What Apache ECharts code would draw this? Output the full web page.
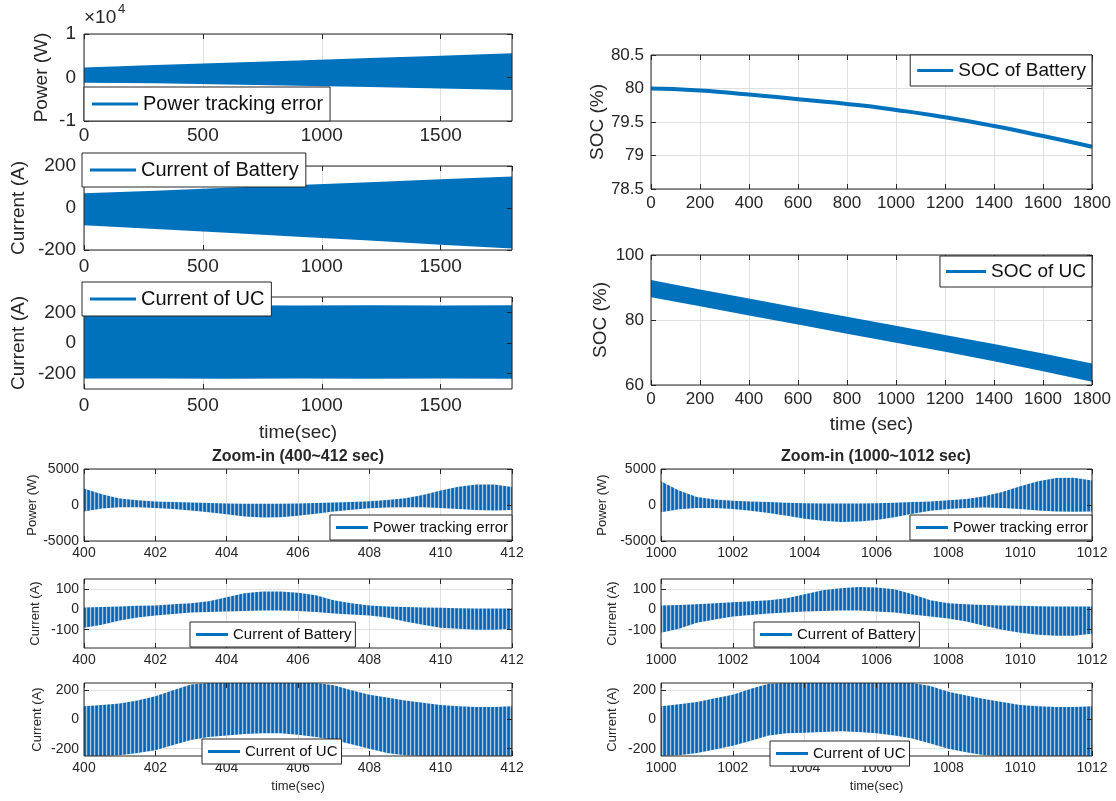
<!DOCTYPE html>
<html>
<head>
<meta charset="utf-8">
<script src="https://cdn.jsdelivr.net/npm/echarts@6/dist/echarts.min.js"></script>
<style>
  html, body { margin: 0; padding: 0; background: #ffffff; }
  #chart { width: 1116px; height: 801px; }
</style>
</head>
<body>
<div id="chart"></div>
<script>
// ---- 1800 s run: envelopes of the fast-switching signals ----
const runTime       = [0, 300, 600, 900, 1200, 1500, 1800];
const powerErrUpper = [2300, 2900, 3400, 3900, 4500, 5000, 5600];
const powerErrLower = [-1200, -1350, -1600, -1900, -2200, -2550, -2900];
const battCurUpper  = [70, 82, 97, 110, 123, 137, 150];
const battCurLower  = [-82, -100, -118, -137, -155, -175, -193];
const ucCurUpper    = [244, 245, 246, 245, 246, 245, 246];
const ucCurLower    = [-232, -232, -233, -232, -233, -232, -233];

// ---- state of charge ----
const socTime    = [0, 200, 400, 600, 800, 1000, 1200, 1400, 1600, 1800];
const socBattery = [80.00, 79.97, 79.91, 79.84, 79.77, 79.68, 79.57, 79.44, 79.29, 79.13];
const socUcUpper = [92.3, 89.4, 86.6, 83.8, 81.0, 78.2, 75.4, 72.6, 69.7, 66.6];
const socUcLower = [87.0, 84.2, 81.4, 78.6, 75.8, 73.0, 70.2, 67.3, 64.2, 61.0];

// ---- zoom-in windows (envelope of the oscillation every 0.5 s) ----
const zoomTimeA = [400, 400.5, 401, 401.5, 402, 402.5, 403, 403.5, 404, 404.5, 405, 405.5, 406,
                   406.5, 407, 407.5, 408, 408.5, 409, 409.5, 410, 410.5, 411, 411.5, 412];
const zoomTimeB = [1000, 1000.5, 1001, 1001.5, 1002, 1002.5, 1003, 1003.5, 1004, 1004.5, 1005, 1005.5, 1006,
                   1006.5, 1007, 1007.5, 1008, 1008.5, 1009, 1009.5, 1010, 1010.5, 1011, 1011.5, 1012];

const powerZoomAUpper = [2300, 1500, 900, 650, 500, 420, 350, 280, 220, 180, 170, 180, 220,
                         280, 350, 420, 520, 680, 950, 1400, 2000, 2550, 2850, 2850, 2500];
const powerZoomALower = [-900, -500, -300, -300, -400, -550, -750, -1000, -1300, -1600, -1750, -1700, -1500,
                         -1200, -900, -650, -450, -350, -300, -300, -400, -550, -700, -750, -700];
const battZoomAUpper  = [10, 12, 15, 18, 20, 25, 30, 40, 60, 80, 88, 88, 82,
                         70, 45, 30, 20, 15, 12, 10, 8, 6, 5, 5, 5];
const battZoomALower  = [-90, -75, -55, -40, -30, -22, -15, -12, -10, -8, -5, -5, -8,
                         -12, -20, -25, -30, -40, -60, -75, -90, -95, -100, -100, -95];
const ucZoomAUpper    = [90, 100, 110, 130, 160, 200, 240, 250, 250, 250, 250, 250, 250,
                         250, 235, 200, 170, 150, 130, 115, 100, 90, 85, 85, 90];
const ucZoomALower    = [-250, -250, -245, -230, -210, -175, -140, -120, -110, -100, -95, -95, -105,
                         -120, -140, -170, -200, -230, -245, -250, -250, -250, -250, -250, -250];

const powerZoomBUpper = [3300, 2000, 1100, 750, 600, 480, 400, 320, 260, 220, 200, 220, 260,
                         320, 400, 500, 650, 850, 1200, 1800, 2600, 3300, 3750, 3800, 3400];
const powerZoomBLower = [-1000, -600, -400, -400, -550, -800, -1100, -1500, -1900, -2200, -2350, -2300, -2100,
                         -1700, -1200, -800, -550, -400, -350, -400, -550, -750, -900, -950, -900];
const battZoomBUpper  = [20, 22, 25, 30, 35, 40, 45, 55, 75, 95, 105, 110, 108,
                         100, 75, 45, 30, 25, 22, 20, 18, 16, 15, 15, 15];
const battZoomBLower  = [-115, -95, -65, -50, -35, -28, -20, -15, -10, -8, -5, -5, -10,
                         -15, -25, -35, -45, -60, -80, -100, -115, -125, -130, -130, -120];
const ucZoomBUpper    = [90, 105, 120, 145, 170, 210, 245, 250, 250, 250, 250, 250, 250,
                         250, 250, 230, 190, 165, 140, 120, 100, 90, 85, 85, 90];
const ucZoomBLower    = [-250, -245, -230, -205, -180, -145, -110, -95, -90, -85, -80, -85, -95,
                         -110, -130, -165, -200, -225, -245, -250, -250, -250, -250, -250, -250];

// ---- tick labels where they differ from a plain interval ----
const ucRunTicks    = [-200, 0, 200];
const battZoomTicks = [-100, 0, 100];
const ucZoomTicks   = [-200, 0, 200];

// ---- styling ----
const FONT = '"Liberation Sans", Arial, Helvetica, sans-serif';
const BLUE = '#0072BD';
const INK = '#262626';
const GRID = '#dfdfdf';

// vertical stripe fill that reads as a densely oscillating trace
function stripeFill() {
  const c = document.createElement('canvas');
  c.width = 4; c.height = 2;
  const g = c.getContext('2d');
  ['#0564b6', '#1473c3', '#a8cbea', '#2a80cb'].forEach((col, i) => {
    g.fillStyle = col; g.fillRect(i, 0, 1, 2);
  });
  return { image: c, repeat: 'repeat' };
}
const STRIPES = stripeFill();

const option = {
  animation: false,
  backgroundColor: '#ffffff',
  textStyle: { fontFamily: FONT },
  grid: [], xAxis: [], yAxis: [], series: [], legend: [], graphic: []
};

function axisPair(list, gi, spec, isX, fs, labelMargin) {
  const base = { gridIndex: gi, type: 'value', min: spec.min, max: spec.max };
  if (!spec.ticks) base.interval = spec.interval;
  const tick = { show: true, inside: true, length: 5, lineStyle: { color: INK, width: 1 } };
  if (spec.ticks) tick.customValues = spec.ticks;
  const label = {
    show: true, fontSize: fs, color: INK, fontFamily: FONT, margin: labelMargin,
    showMaxLabel: spec.showMax !== false, showMinLabel: true,
    formatter: spec.formatter || (v => String(v))
  };
  if (spec.ticks) label.customValues = spec.ticks;
  const main = Object.assign({}, base, {
    position: isX ? 'bottom' : 'left', z: 0,
    axisLine: { show: false, onZero: false }, axisTick: tick, axisLabel: label,
    splitLine: { show: true, lineStyle: { color: GRID, width: 1 } }
  });
  if (spec.name) {
    Object.assign(main, {
      name: spec.name, nameLocation: 'middle', nameGap: spec.nameGap,
      nameRotate: isX ? 0 : 90,
      nameTextStyle: { fontSize: spec.nameSize, color: INK, fontFamily: FONT }
    });
  }
  const mirror = Object.assign({}, base, {
    position: isX ? 'top' : 'right', z: 6,
    axisLine: { show: false, onZero: false }, axisTick: Object.assign({}, tick),
    axisLabel: { show: false }, splitLine: { show: false }
  });
  const idx = list.length;
  list.push(main, mirror);
  return idx;
}

function addPanel(p) {
  const gi = option.grid.length;
  const [x0, y0, x1, y1] = p.box;
  option.grid.push({
    left: x0, top: y0, width: x1 - x0, height: y1 - y0,
    show: true, backgroundColor: 'rgba(0,0,0,0)', borderColor: INK, borderWidth: 1, z: 5
  });
  const xi = axisPair(option.xAxis, gi, p.x, true, p.fs, p.xMargin);
  const yi = axisPair(option.yAxis, gi, p.y, false, p.fs, p.yMargin);

  if (p.line) {
    option.series.push({
      type: 'line', name: p.label, xAxisIndex: xi, yAxisIndex: yi,
      data: p.t.map((t, i) => [t, p.line[i]]),
      smooth: 0.6, symbol: 'none', color: BLUE,
      lineStyle: { color: BLUE, width: p.lineWidth || 3.5 }, z: 2
    });
  } else {
    // filled band between the lower and upper envelope
    const rows = p.t.map((t, i) => [t, p.upper[i], p.lower[i]]);
    const fill = p.fill || BLUE;
    option.series.push({
      type: 'custom', name: p.label, coordinateSystem: 'cartesian2d',
      xAxisIndex: xi, yAxisIndex: yi, data: rows, encode: { x: 0, y: [1, 2] },
      clip: true, silent: true, color: BLUE, z: 2,
      renderItem: (params, api) => {
        if (params.dataIndex !== 0) return null;
        const top = rows.map(r => api.coord([r[0], r[1]]));
        const bottom = rows.slice().reverse().map(r => api.coord([r[0], r[2]]));
        return { type: 'polygon', shape: { points: top.concat(bottom) }, style: { fill: fill } };
      }
    });
  }

  const lg = p.legend;
  const legend = {
    top: lg.top, orient: 'horizontal', icon: 'rect',
    data: [p.label], selectedMode: false,
    itemWidth: lg.itemWidth, itemHeight: 3, itemGap: 0,
    itemStyle: { color: BLUE },
    backgroundColor: '#ffffff', borderColor: INK, borderWidth: 1, borderRadius: 0,
    padding: lg.padding,
    textStyle: { fontSize: lg.fs, color: '#111111', fontFamily: FONT },
    z: 8
  };
  if (lg.right != null) legend.right = lg.right; else legend.left = lg.left;
  option.legend.push(legend);
}

// ---------------- left column: full 1800 s run ----------------
const runX = { min: 0, max: 1800, interval: 500, showMax: false };
const bigLegend = { itemWidth: 46, fs: 20, padding: [7, 7, 7, 8] };

addPanel({
  box: [84, 34, 512, 121], fs: 19, xMargin: 5, yMargin: 8,
  x: runX,
  y: { min: -10000, max: 10000, interval: 10000, formatter: v => String(v / 10000),
       name: 'Power (W)', nameGap: 33, nameSize: 19 },
  t: runTime, upper: powerErrUpper, lower: powerErrLower,
  label: 'Power tracking error',
  legend: Object.assign({ left: 84, top: 87 }, bigLegend)
});
addPanel({
  box: [84, 166, 512, 250], fs: 19, xMargin: 7, yMargin: 8,
  x: runX,
  y: { min: -200, max: 200, interval: 200, name: 'Current (A)', nameGap: 56, nameSize: 19 },
  t: runTime, upper: battCurUpper, lower: battCurLower,
  label: 'Current of Battery',
  legend: Object.assign({ left: 82, top: 153 }, bigLegend)
});
addPanel({
  box: [84, 297, 512, 389], fs: 19, xMargin: 7, yMargin: 8,
  x: Object.assign({ name: 'time(sec)', nameGap: 34, nameSize: 19 }, runX),
  y: { min: -300, max: 300, ticks: ucRunTicks, name: 'Current (A)', nameGap: 56, nameSize: 19 },
  t: runTime, upper: ucCurUpper, lower: ucCurLower,
  label: 'Current of UC',
  legend: Object.assign({ left: 82, top: 282 }, bigLegend)
});

// ---------------- right column: state of charge ----------------
const socX = { min: 0, max: 1800, interval: 200 };
addPanel({
  box: [651, 55, 1092, 189], fs: 17, xMargin: 6, yMargin: 7,
  x: socX,
  y: { min: 78.5, max: 80.5, interval: 0.5, name: 'SOC (%)', nameGap: 41, nameSize: 19 },
  t: socTime, line: socBattery, lineWidth: 4,
  label: 'SOC of Battery',
  legend: { right: 24, top: 55, itemWidth: 36, fs: 19, padding: [6, 6, 6, 7] }
});
addPanel({
  box: [651, 255, 1092, 385], fs: 17, xMargin: 6, yMargin: 7,
  x: Object.assign({ name: 'time (sec)', nameGap: 30, nameSize: 19 }, socX),
  y: { min: 60, max: 100, interval: 20, name: 'SOC (%)', nameGap: 41, nameSize: 19 },
  t: socTime, upper: socUcUpper, lower: socUcLower,
  label: 'SOC of UC',
  legend: { right: 24, top: 256, itemWidth: 40, fs: 19, padding: [6, 6, 6, 6] }
});

// ---------------- zoom-in windows ----------------
const smallLegend = { itemWidth: 32, fs: 15, padding: [5, 4, 5, 6] };
const zoomA = { min: 400, max: 412, interval: 2 };
const zoomB = { min: 1000, max: 1012, interval: 2 };

addPanel({
  box: [84, 469, 512, 541], fs: 14, xMargin: 5, yMargin: 5,
  x: zoomA,
  y: { min: -5000, max: 5000, interval: 5000, name: 'Power (W)', nameGap: 45, nameSize: 13 },
  t: zoomTimeA, upper: powerZoomAUpper, lower: powerZoomALower, fill: STRIPES,
  label: 'Power tracking error',
  legend: Object.assign({ right: 604, top: 515 }, smallLegend)
});
addPanel({
  box: [84, 579, 512, 648], fs: 14, xMargin: 5, yMargin: 5,
  x: zoomA,
  y: { min: -190, max: 150, ticks: battZoomTicks, name: 'Current (A)', nameGap: 42, nameSize: 13 },
  t: zoomTimeA, upper: battZoomAUpper, lower: battZoomALower, fill: STRIPES,
  label: 'Current of Battery',
  legend: Object.assign({ left: 190, top: 622 }, smallLegend)
});
addPanel({
  box: [84, 683, 512, 756], fs: 14, xMargin: 5, yMargin: 5,
  x: Object.assign({ name: 'time(sec)', nameGap: 24, nameSize: 13 }, zoomA),
  y: { min: -250, max: 250, ticks: ucZoomTicks, name: 'Current (A)', nameGap: 40, nameSize: 13 },
  t: zoomTimeA, upper: ucZoomAUpper, lower: ucZoomALower, fill: STRIPES,
  label: 'Current of UC',
  legend: Object.assign({ left: 202, top: 739 }, smallLegend)
});

addPanel({
  box: [661, 469, 1092, 541], fs: 14, xMargin: 5, yMargin: 5,
  x: zoomB,
  y: { min: -5000, max: 5000, interval: 5000, name: 'Power (W)', nameGap: 52, nameSize: 13 },
  t: zoomTimeB, upper: powerZoomBUpper, lower: powerZoomBLower, fill: STRIPES,
  label: 'Power tracking error',
  legend: Object.assign({ right: 24, top: 515 }, smallLegend)
});
addPanel({
  box: [661, 579, 1092, 648], fs: 14, xMargin: 5, yMargin: 5,
  x: zoomB,
  y: { min: -190, max: 150, ticks: battZoomTicks, name: 'Current (A)', nameGap: 42, nameSize: 13 },
  t: zoomTimeB, upper: battZoomBUpper, lower: battZoomBLower, fill: STRIPES,
  label: 'Current of Battery',
  legend: Object.assign({ left: 754, top: 622 }, smallLegend)
});
addPanel({
  box: [661, 683, 1092, 756], fs: 14, xMargin: 5, yMargin: 5,
  x: Object.assign({ name: 'time(sec)', nameGap: 24, nameSize: 13 }, zoomB),
  y: { min: -250, max: 250, ticks: ucZoomTicks, name: 'Current (A)', nameGap: 42, nameSize: 13 },
  t: zoomTimeB, upper: ucZoomBUpper, lower: ucZoomBLower, fill: STRIPES,
  label: 'Current of UC',
  legend: Object.assign({ left: 770, top: 741 }, smallLegend)
});

// exponent of the power axis and the zoom window titles
option.graphic.push(
  { type: 'text', x: 84, y: 8, z: 10,
    style: { text: '\u00d710', font: '19px ' + FONT, fill: INK, textAlign: 'left', textVerticalAlign: 'top' } },
  { type: 'text', x: 118, y: 3, z: 10,
    style: { text: '4', font: '13px ' + FONT, fill: INK, textAlign: 'left', textVerticalAlign: 'top' } },
  { type: 'text', x: 298, y: 449, z: 10,
    style: { text: 'Zoom-in (400~412 sec)', font: 'bold 16px ' + FONT, fill: INK,
             textAlign: 'center', textVerticalAlign: 'top' } },
  { type: 'text', x: 876, y: 449, z: 10,
    style: { text: 'Zoom-in (1000~1012 sec)', font: 'bold 16px ' + FONT, fill: INK,
             textAlign: 'center', textVerticalAlign: 'top' } }
);

const chart = echarts.init(document.getElementById('chart'), null, { renderer: 'canvas' });
chart.setOption(option);
</script>
</body>
</html>
